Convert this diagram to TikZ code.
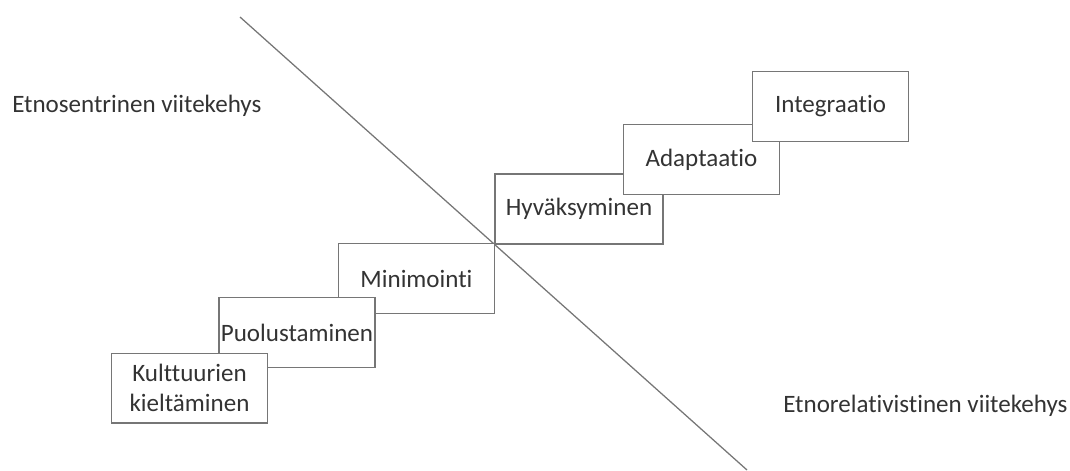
\documentclass[tikz,border=0pt]{standalone}
\usepackage{fontspec}
\setmainfont{Carlito}[Ligatures=NoCommon]
\definecolor{txtgray}{HTML}{333333}
\definecolor{linegray}{HTML}{767676}

\begin{document}
\begin{tikzpicture}[x=0.025cm, y=-0.025cm,
    stage/.style={draw=linegray, line width=1pt, fill=white, text=txtgray,
      inner sep=0pt, minimum width=3.9cm, minimum height=1.74cm, align=center,
      font=\fontsize{17.8}{21.5}\selectfont},
    side/.style={text=txtgray, inner sep=0pt, anchor=base west,
      font=\fontsize{17.8}{21.5}\selectfont}]
  \useasboundingbox (0,0) rectangle (1070,470);
  \coordinate (L1) at (240,17);
  \coordinate (L2) at (747,470);
  \draw[linegray, line width=0.9pt] (L1) -- (L2);
  % left half, lower boxes in front
  \node[stage] (Mi) at (416.5,278.5) {Minimointi};
  \node[stage] (Pu) at (297,332.5)   {Puolustaminen};
  \node[stage] (Ku) at (189.5,388)   {Kulttuurien\\kieltäminen};
  % right half, higher boxes in front
  \node[stage, minimum width=4.2cm] (Hy) at (579,209) {Hyväksyminen};
  \node[stage] (Ad) at (701.5,159.5) {Adaptaatio};
  \node[stage] (In) at (830.5,106.5) {Integraatio};
  \node[side] (Es) at (12,112)  {Etnosentrinen viitekehys};
  \node[side] (Er) at (783,412) {Etnorelativistinen viitekehys};
\end{tikzpicture}
\end{document}
